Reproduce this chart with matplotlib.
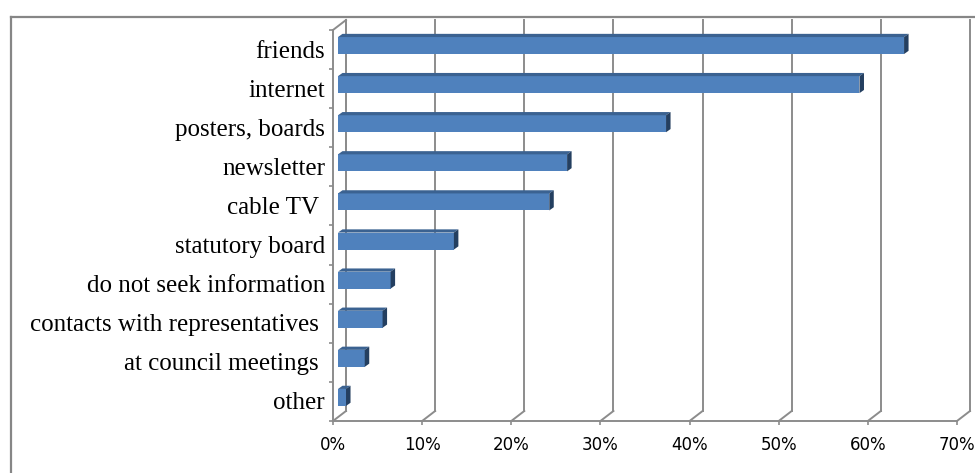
import numpy as np
import matplotlib.pyplot as plt
from matplotlib.patches import Polygon, Rectangle
from matplotlib.lines import Line2D

categories = ["friends", "internet", "posters, boards", "newsletter", "cable TV ",
              "statutory board", "do not seek information",
              "contacts with representatives ", "at council meetings ", "other"]
values = [63.5, 58.5, 36.8, 25.7, 23.7, 13.0, 5.9, 5.0, 3.0, 0.9]
xticks = [0, 10, 20, 30, 40, 50, 60, 70]
xticklabels = ["0%", "10%", "20%", "30%", "40%", "50%", "60%", "70%"]

W, H = 975, 473
grid_c = "#8c8c8c"
front_c = "#4f81bd"
top_c = "#3b6291"
side_c = "#243f60"

fig = plt.figure(figsize=(W / 100, H / 100), dpi=100)
ax = fig.add_axes([333 / W, 1 - 421 / H, 624 / W, 391 / H])
n = len(categories)
ax.set_xlim(0, 70)
ax.set_ylim(0, n)

# pixel -> data units
sx = 70 / 624
sy = n / 391

# depth of the walls, and of the bars inside them
wdx, wdy = 13 * sx, 10 * sy
ox, oy = 5 * sx, 4 * sy
bdx, bdy = 4.5 * sx, 3.2 * sy
h = 17 * sy

def line(xs, ys, **kw):
    ax.add_line(Line2D(xs, ys, color=grid_c, lw=1.4, clip_on=False, **kw))

# back wall gridlines and floor diagonals
for t in xticks:
    line([t + wdx, t + wdx], [wdy, n + wdy])
    line([t, t + wdx], [0, wdy])
# left wall
line([0, 0], [0, n])
line([wdx, wdx], [wdy, n + wdy])
line([0, wdx], [n, n + wdy])
# floor front edge
line([0, 70], [0, 0])

for i, (cat, v) in enumerate(zip(categories, values)):
    c = n - 1 - i + 0.5
    bot = c - h / 2 + oy
    top = bot + h
    ax.add_patch(Rectangle((ox, bot), v, h, facecolor=front_c, edgecolor="none",
                           clip_on=False, zorder=3))
    ax.add_patch(Polygon([(ox, top), (ox + v, top), (ox + v + bdx, top + bdy),
                          (ox + bdx, top + bdy)], closed=True, facecolor=top_c,
                         edgecolor="none", clip_on=False, zorder=3))
    ax.add_patch(Polygon([(ox + v, bot), (ox + v + bdx, bot + bdy),
                          (ox + v + bdx, top + bdy), (ox + v, top)], closed=True,
                         facecolor=side_c, edgecolor="none", clip_on=False, zorder=3))
    ax.text(-8 * sx, c - 8 * sy, cat, ha="right", va="baseline",
            fontfamily="Liberation Serif", fontsize=18, color="black")

for s in ax.spines.values():
    s.set_visible(False)
ax.set_xticks(xticks, xticklabels)
ax.set_yticks(range(n + 1), [""] * (n + 1))
ax.tick_params(axis="x", length=3, width=1.2, color=grid_c, pad=8, labelsize=12)
ax.tick_params(axis="y", length=3, width=1.2, color=grid_c)
ax.set_facecolor("none")

# outer chart frame
fig.add_artist(Line2D([11 / W, 11 / W], [0, 1 - 17 / H], color="#868686", lw=1.6))
fig.add_artist(Line2D([11 / W, 1], [1 - 17 / H, 1 - 17 / H], color="#868686", lw=1.6))

fig.savefig("out.png", dpi=100)
